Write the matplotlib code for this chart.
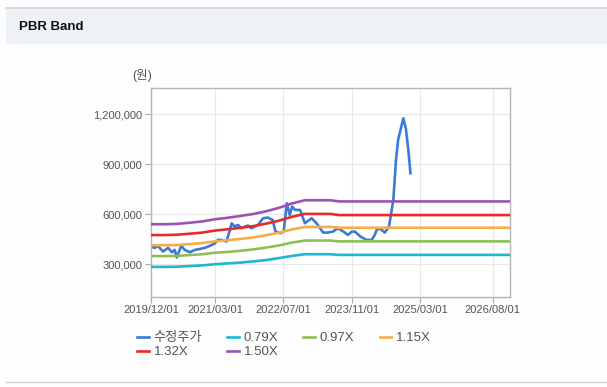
"""
PBR band chart: adjusted price vs. price-to-book multiples bands.
"""

import pandas as pd
import matplotlib
matplotlib.use("Agg")
import matplotlib.pyplot as plt
import matplotlib.dates as mdates
from matplotlib.patches import Rectangle
from matplotlib.lines import Line2D
from matplotlib.ticker import FuncFormatter

plt.rcParams["font.family"] = ["Liberation Sans", "Noto Sans CJK KR", "DejaVu Sans"]

# ---------------------------------------------------------------------
# Data
# ---------------------------------------------------------------------

price_dates = [
    "2019-12-05", "2019-12-28", "2020-01-18", "2020-02-25", "2020-04-01",
    "2020-04-28", "2020-05-18", "2020-06-01", "2020-07-03", "2020-07-28",
    "2020-09-03", "2020-10-10", "2020-11-15", "2020-12-18", "2021-01-25",
    "2021-03-01", "2021-03-22", "2021-04-15", "2021-05-22", "2021-06-28",
    "2021-07-18", "2021-08-12", "2021-09-06", "2021-10-01", "2021-10-22",
    "2021-11-15", "2021-12-10", "2022-01-01", "2022-02-06", "2022-03-13",
    "2022-04-15", "2022-05-06", "2022-06-06", "2022-07-03", "2022-07-25",
    "2022-08-15", "2022-09-01", "2022-09-22", "2022-10-28", "2022-12-01",
    "2023-01-18", "2023-02-22", "2023-04-10", "2023-05-15", "2023-06-18",
    "2023-07-25", "2023-09-01", "2023-10-04", "2023-11-01", "2023-11-22",
    "2024-01-01", "2024-02-12", "2024-03-20", "2024-04-12", "2024-04-25",
    "2024-05-16", "2024-06-22", "2024-07-22", "2024-08-22", "2024-09-10",
    "2024-09-25", "2024-11-01", "2024-11-19", "2024-12-07", "2024-12-22",
]
price_values = [
    405000, 398000, 411000, 376000, 398000,
    372000, 386000, 340000, 411000, 386000,
    372000, 386000, 392000, 398000, 411000,
    426000, 446000, 446000, 436000, 546000,
    526000, 536000, 516000, 526000, 532000,
    516000, 526000, 536000, 576000, 580000,
    566000, 496000, 486000, 496000, 666000,
    596000, 646000, 626000, 626000, 546000,
    576000, 546000, 490000, 490000, 496000,
    516000, 496000, 476000, 496000, 496000,
    466000, 446000, 446000, 476000, 506000,
    516000, 490000, 526000, 686000, 926000,
    1046000, 1176000, 1116000, 986000, 846000,
]

band_dates = [
    "2019-12-01", "2020-03-01", "2020-06-01", "2020-09-01", "2020-12-01",
    "2021-03-01", "2021-06-01", "2021-09-01", "2021-12-01", "2022-03-01",
    "2022-06-01", "2022-09-01", "2022-12-01", "2023-06-01", "2023-08-01",
    "2026-12-01",
]
band_079 = [284000, 284000, 285000, 289000, 293000, 300000, 305000, 310000,
            317000, 325000, 337000, 350000, 360000, 360000, 356000, 356000]
band_097 = [349000, 349000, 350000, 355000, 360000, 369000, 374000, 381000,
            389000, 400000, 413000, 430000, 442000, 442000, 437000, 437000]
band_115 = [414000, 414000, 415000, 421000, 427000, 437000, 444000, 452000,
            461000, 474000, 490000, 509000, 524000, 524000, 519000, 519000]
band_132 = [475000, 475000, 477000, 483000, 490000, 502000, 510000, 519000,
            529000, 544000, 562000, 585000, 602000, 602000, 595000, 595000]
band_150 = [540000, 540000, 542000, 549000, 557000, 570000, 579000, 590000,
            602000, 618000, 639000, 665000, 684000, 684000, 677000, 677000]

band_labels = ["0.79X", "0.97X", "1.15X", "1.32X", "1.50X"]
band_series = [band_079, band_097, band_115, band_132, band_150]
band_colors = ["#1bb9d1", "#8fbf52", "#f5ad48", "#e62b2b", "#9d52b3"]

price_label = "수정주가"
price_color = "#3b7bd4"

x_ticks = ["2019/12/01", "2021/03/01", "2022/07/01", "2023/11/01",
           "2025/03/01", "2026/08/01"]
y_ticks = [300000, 600000, 900000, 1200000]

# ---------------------------------------------------------------------
# Figure
# ---------------------------------------------------------------------

W, H = 607, 387
fig = plt.figure(figsize=(W / 100, H / 100), dpi=100, facecolor="#fdfdfd")

# header strip and frame lines
fig.add_artist(Rectangle((6 / W, 1 - 44 / H), 1, 36 / H,
                         transform=fig.transFigure, facecolor="#eef2f7",
                         edgecolor="none"))
fig.add_artist(Line2D([6 / W, 1], [1 - 8 / H, 1 - 8 / H],
                      transform=fig.transFigure, color="#d3d3d3", lw=1.2))
fig.add_artist(Line2D([6 / W, 1], [1 - 382 / H, 1 - 382 / H],
                      transform=fig.transFigure, color="#d3d3d3", lw=1.0))
fig.text(19 / W, 1 - 27 / H, "PBR Band", fontsize=9.5, fontweight="bold",
         color="#111111", va="center", ha="left",
         family=["Liberation Sans", "DejaVu Sans"])

ax = fig.add_axes([151 / W, 1 - 296.7 / H, (510 - 151) / W, (296.7 - 88) / H])
ax.set_facecolor("white")

px = pd.to_datetime(price_dates)
bx = pd.to_datetime(band_dates)

handles = {}
handles[price_label], = ax.plot(px, price_values, color=price_color, lw=1.9,
                                label=price_label, zorder=2,
                                solid_joinstyle="round")
for vals, lab, col in zip(band_series, band_labels, band_colors):
    handles[lab], = ax.plot(bx, vals, color=col, lw=1.9, label=lab, zorder=3)

ax.set_xlim(pd.Timestamp("2019-12-01"), pd.Timestamp("2026-12-01"))
ax.set_ylim(105000, 1358000)

ax.set_xticks(pd.to_datetime(x_ticks))
ax.xaxis.set_major_formatter(mdates.DateFormatter("%Y/%m/%d"))
ax.set_yticks(y_ticks)
ax.yaxis.set_major_formatter(FuncFormatter(lambda v, _: f"{int(v):,}"))

ax.grid(True, color="#e8e8e8", lw=0.8)
ax.set_axisbelow(True)
ax.tick_params(axis="both", labelsize=8, colors="#aaaaaa",
               labelcolor="#555555", length=4, width=0.8, pad=2)
for sp in ax.spines.values():
    sp.set_color("#b5b5b5")
    sp.set_linewidth(1.0)

fig.text(132 / W, 1 - 75 / H, "(원)", fontsize=9, color="#555555",
         va="center", ha="left")

# legend fills column-wise; order so that rows read like the reference
order = [price_label, "1.32X", "0.79X", "1.50X", "0.97X", "1.15X"]
ax.legend([handles[k] for k in order], order,
          loc="upper left", bbox_to_anchor=(137 / W, 1 - 332 / H),
          bbox_transform=fig.transFigure, ncol=4, frameon=False,
          fontsize=9.5, handlelength=0.9, handletextpad=0.35,
          columnspacing=1.9, labelspacing=0.15, borderpad=0,
          borderaxespad=0, labelcolor="#555555")

fig.savefig("out.png", dpi=100, facecolor=fig.get_facecolor())
plt.close()
